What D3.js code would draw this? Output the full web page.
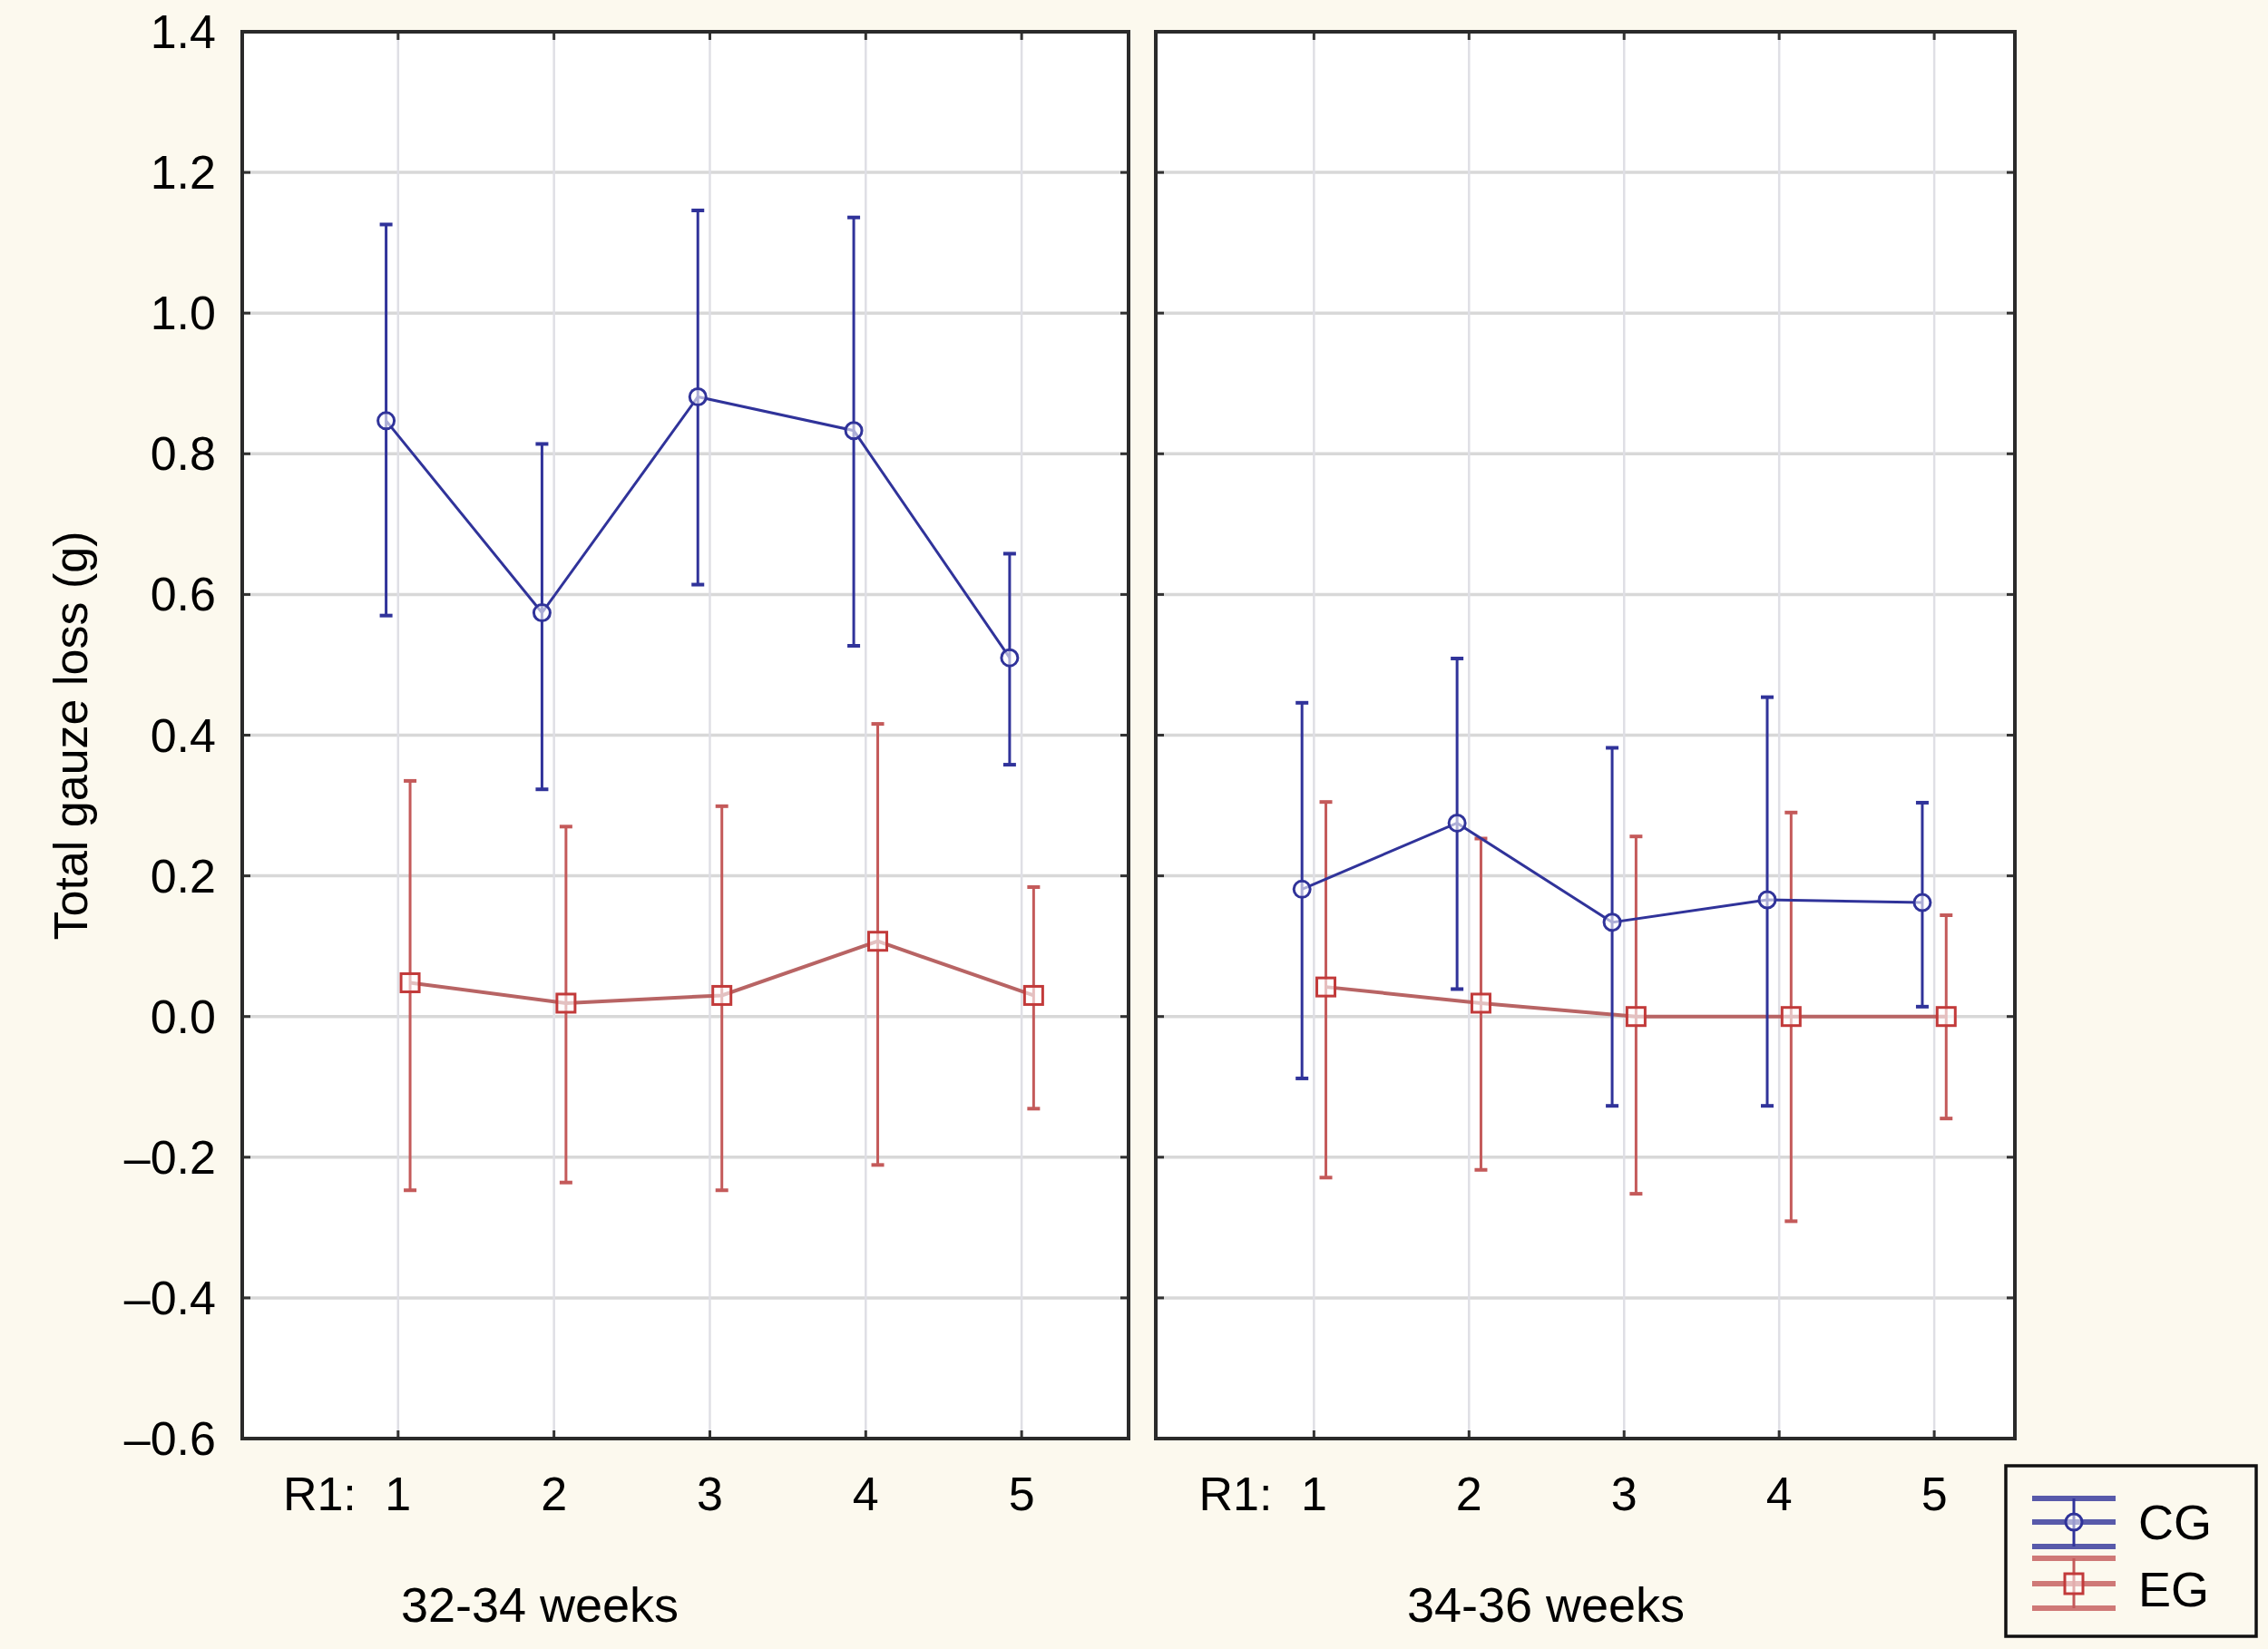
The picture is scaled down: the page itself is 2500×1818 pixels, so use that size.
<!DOCTYPE html>
<html>
<head>
<meta charset="utf-8">
<script src="https://cdn.jsdelivr.net/npm/d3@7"></script>
<style>
  html, body { margin: 0; padding: 0; background: #fcf9ee; }
  svg { display: block; }
  text { font-family: "Liberation Sans", Arial, sans-serif; fill: #000; }
</style>
</head>
<body>
<svg id="chart" width="2500" height="1818"></svg>
<script>
// data
const groups = ["32-34 weeks", "34-36 weeks"]
const categories = [1, 2, 3, 4, 5]
const yTicks = [-0.6, -0.4, -0.2, 0.0, 0.2, 0.4, 0.6, 0.8, 1.0, 1.2, 1.4]
const seriesNames = ["CG", "EG"]

const cgMean32 = [0.847, 0.574, 0.881, 0.833, 0.510]
const cgHigh32 = [1.126, 0.814, 1.146, 1.136, 0.658]
const cgLow32 = [0.570, 0.323, 0.614, 0.527, 0.358]
const egMean32 = [0.048, 0.019, 0.030, 0.107, 0.030]
const egHigh32 = [0.335, 0.270, 0.299, 0.416, 0.184]
const egLow32 = [-0.247, -0.236, -0.247, -0.211, -0.131]

const cgMean34 = [0.181, 0.275, 0.134, 0.166, 0.162]
const cgHigh34 = [0.446, 0.509, 0.382, 0.454, 0.304]
const cgLow34 = [-0.088, 0.039, -0.127, -0.127, 0.014]
const egMean34 = [0.042, 0.019, 0.000, 0.000, 0.000]
const egHigh34 = [0.305, 0.253, 0.256, 0.290, 0.144]
const egLow34 = [-0.229, -0.218, -0.252, -0.291, -0.145]

const blue = "#30339a"
const red = "#c45a5a"

const svg = d3.select("#chart")

const plotTop = 35, plotBottom = 1586
const y = d3.scaleLinear().domain([-0.6, 1.4]).range([plotBottom, plotTop])

const panels = [
  { name: groups[0], x0: 267, x1: 1244, domain: [0, 5.686], labelX: 595,
    cg: { mean: cgMean32, hi: cgHigh32, lo: cgLow32 },
    eg: { mean: egMean32, hi: egHigh32, lo: egLow32 } },
  { name: groups[1], x0: 1274, x1: 2221, domain: [-0.02, 5.52], labelX: 1704,
    cg: { mean: cgMean34, hi: cgHigh34, lo: cgLow34 },
    eg: { mean: egMean34, hi: egHigh34, lo: egLow34 } }
]

const offset = 0.077

panels.forEach(p => {
  const x = d3.scaleLinear().domain(p.domain).range([p.x0, p.x1])
  const g = svg.append("g")

  // plot background
  g.append("rect")
    .attr("x", p.x0).attr("y", plotTop)
    .attr("width", p.x1 - p.x0).attr("height", plotBottom - plotTop)
    .attr("fill", "#fff")

  // grid
  g.selectAll(".hgrid").data(yTicks.slice(1, -1)).join("line")
    .attr("x1", p.x0).attr("x2", p.x1)
    .attr("y1", d => y(d)).attr("y2", d => y(d))
    .attr("stroke", "#d8d8d8").attr("stroke-width", 3.5)
  g.selectAll(".vgrid").data(categories).join("line")
    .attr("x1", d => x(d)).attr("x2", d => x(d))
    .attr("y1", plotTop).attr("y2", plotBottom)
    .attr("stroke", "#dfdfe5").attr("stroke-width", 2.5)

  // tick marks, inside the frame
  const tl = 9
  g.selectAll(".ytl").data(yTicks).join("line")
    .attr("x1", p.x0).attr("x2", p.x0 + tl)
    .attr("y1", d => y(d)).attr("y2", d => y(d))
    .attr("stroke", "#333").attr("stroke-width", 3)
  g.selectAll(".ytr").data(yTicks).join("line")
    .attr("x1", p.x1 - tl).attr("x2", p.x1)
    .attr("y1", d => y(d)).attr("y2", d => y(d))
    .attr("stroke", "#333").attr("stroke-width", 3)
  g.selectAll(".xtb").data(categories).join("line")
    .attr("x1", d => x(d)).attr("x2", d => x(d))
    .attr("y1", plotBottom - tl).attr("y2", plotBottom)
    .attr("stroke", "#333").attr("stroke-width", 3)
  g.selectAll(".xtt").data(categories).join("line")
    .attr("x1", d => x(d)).attr("x2", d => x(d))
    .attr("y1", plotTop).attr("y2", plotTop + tl)
    .attr("stroke", "#333").attr("stroke-width", 3)

  // series
  const drawSeries = (s, dx, color, lineColor, lineW, marker) => {
    const pts = categories.map((c, i) => ({ c: c, m: s.mean[i], hi: s.hi[i], lo: s.lo[i] }))
    const cx = d => x(d.c + dx)
    g.selectAll(null).data(pts).join("line")
      .attr("x1", cx).attr("x2", cx)
      .attr("y1", d => y(d.hi)).attr("y2", d => y(d.lo))
      .attr("stroke", color).attr("stroke-width", 3)
    g.selectAll(null).data(pts.flatMap(d => [{ c: d.c, v: d.hi }, { c: d.c, v: d.lo }])).join("line")
      .attr("x1", d => x(d.c + dx) - 7).attr("x2", d => x(d.c + dx) + 7)
      .attr("y1", d => y(d.v)).attr("y2", d => y(d.v))
      .attr("stroke", color).attr("stroke-width", 4)
    g.append("path").datum(pts)
      .attr("d", d3.line().x(cx).y(d => y(d.m)))
      .attr("fill", "none").attr("stroke", lineColor).attr("stroke-width", lineW)
    if (marker == "circle") {
      g.selectAll(null).data(pts).join("circle")
        .attr("cx", cx).attr("cy", d => y(d.m)).attr("r", 9)
        .attr("fill", "#fff").attr("fill-opacity", 0.6)
        .attr("stroke", color).attr("stroke-width", 3)
    } else {
      g.selectAll(null).data(pts).join("rect")
        .attr("x", d => cx(d) - 10).attr("y", d => y(d.m) - 10)
        .attr("width", 20).attr("height", 20)
        .attr("fill", "#fff").attr("fill-opacity", 0.6)
        .attr("stroke", "#c23a3a").attr("stroke-width", 3)
    }
  }
  drawSeries(p.eg, offset, red, "#b86464", 4, "square")
  drawSeries(p.cg, -offset, blue, blue, 3, "circle")

  // frame
  g.append("rect")
    .attr("x", p.x0).attr("y", plotTop)
    .attr("width", p.x1 - p.x0).attr("height", plotBottom - plotTop)
    .attr("fill", "none").attr("stroke", "#2a2a2a").attr("stroke-width", 4)

  // x labels
  g.selectAll(".xl").data(categories).join("text")
    .attr("x", d => x(d)).attr("y", 1665)
    .attr("text-anchor", "middle").attr("font-size", 52)
    .text(d => d)
  g.append("text")
    .attr("x", x(1) - 46).attr("y", 1665)
    .attr("text-anchor", "end").attr("font-size", 52)
    .text("R1:")

  g.append("text")
    .attr("x", p.labelX).attr("y", 1788)
    .attr("text-anchor", "middle").attr("font-size", 54)
    .text(p.name)
})

// y tick labels
svg.selectAll(".yl").data(yTicks).join("text")
  .attr("x", 238).attr("y", d => y(d) + 18)
  .attr("text-anchor", "end").attr("font-size", 52)
  .text(d => (d < 0 ? "\u2013" : "") + Math.abs(d).toFixed(1))

svg.append("text")
  .attr("transform", "translate(96,811) rotate(-90)")
  .attr("text-anchor", "middle").attr("font-size", 52)
  .text("Total gauze loss (g)")

// legend
const lg = svg.append("g")
lg.append("rect")
  .attr("x", 2211).attr("y", 1616).attr("width", 276).attr("height", 188)
  .attr("fill", "none").attr("stroke", "#111").attr("stroke-width", 3.5)

const legendItems = [
  { name: seriesNames[0], color: blue, ys: [1652, 1678, 1705], base: 1697 },
  { name: seriesNames[1], color: red, ys: [1718, 1746, 1773], base: 1771 }
]
legendItems.forEach((it, i) => {
  it.ys.forEach(yy => {
    lg.append("line")
      .attr("x1", 2240).attr("x2", 2332).attr("y1", yy).attr("y2", yy)
      .attr("stroke", it.color).attr("stroke-width", 6).attr("opacity", 0.8)
  })
  lg.append("line")
    .attr("x1", 2286).attr("x2", 2286).attr("y1", it.ys[0]).attr("y2", it.ys[2])
    .attr("stroke", it.color).attr("stroke-width", 3)
  if (i == 0) {
    lg.append("circle").attr("cx", 2286).attr("cy", it.ys[1]).attr("r", 9)
      .attr("fill", "#fff").attr("fill-opacity", 0.5)
      .attr("stroke", it.color).attr("stroke-width", 3)
  } else {
    lg.append("rect").attr("x", 2276).attr("y", it.ys[1] - 11).attr("width", 20).attr("height", 22)
      .attr("fill", "#fff").attr("fill-opacity", 0.5)
      .attr("stroke", "#c23a3a").attr("stroke-width", 3)
  }
  lg.append("text")
    .attr("x", 2357).attr("y", it.base)
    .attr("font-size", 54)
    .text(it.name)
})
</script>
</body>
</html>
